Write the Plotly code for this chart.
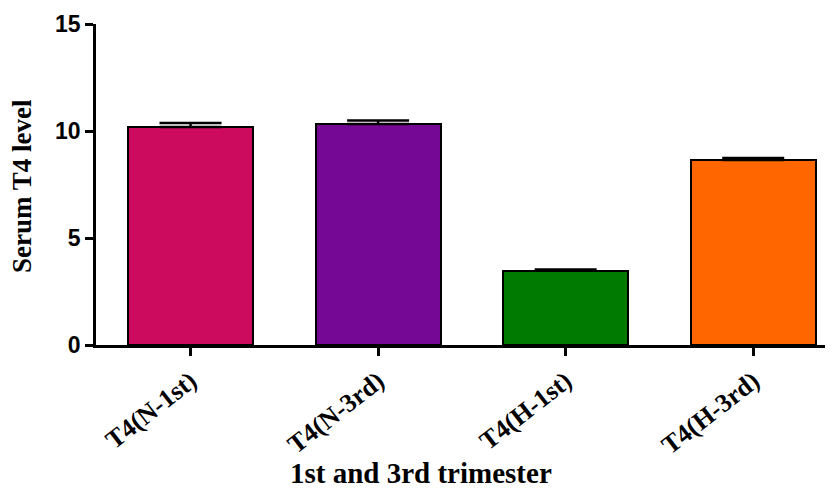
import plotly.graph_objects as go

categories = ["T4(N-1st)", "T4(N-3rd)", "T4(H-1st)", "T4(H-3rd)"]
values = [10.19, 10.33, 3.48, 8.64]
errors = [0.18, 0.16, 0.05, 0.10]
colors = ["#CC0A5E", "#760896", "#007A00", "#FF6600"]
y_ticks = [0, 5, 10, 15]

W, H = 825, 480
L, R, T, B = 88, 1, 16, 143
PW, PH = W - L - R, H - T - B

fig = go.Figure()
fig.add_trace(go.Bar(
    x=list(range(len(categories))), y=values, width=0.667,
    marker=dict(color=colors, line=dict(color="black", width=2)),
    error_y=dict(type="data", array=errors, symmetric=False, arrayminus=[0]*4,
                 color="black", thickness=2.5, width=31),
))
fig.update_layout(
    width=W, height=H, plot_bgcolor="white", paper_bgcolor="white",
    margin=dict(l=L, r=R, t=T, b=B), showlegend=False, bargap=0,
    xaxis=dict(range=[-0.504, 3.42], tickmode="array", tickvals=list(range(4)),
               ticktext=["<b>%s</b>" % c for c in categories],
               tickangle=-38, ticks="outside", ticklen=8, tickwidth=2.5, tickcolor="black",
               showline=True, linecolor="black", linewidth=2.5, showgrid=False, zeroline=False,
               tickfont=dict(family="Liberation Serif", size=26, color="black")),
    yaxis=dict(range=[0, 15], tickmode="array", tickvals=y_ticks,
               ticktext=["<b>%d</b>" % v for v in y_ticks],
               ticks="outside", ticklen=8, tickwidth=2.5,
               tickcolor="black", showline=True, linecolor="black", linewidth=2.5,
               showgrid=False, zeroline=False,
               tickfont=dict(family="Liberation Sans", size=23, color="black")),
)
fig.add_annotation(text="<b>Serum T4 level</b>", xref="paper", yref="paper", textangle=-90,
                   x=(14 - L) / PW, y=(H - B - 178) / PH, showarrow=False,
                   xanchor="center", yanchor="middle",
                   font=dict(family="Liberation Serif", size=27, color="black"))
fig.add_annotation(text="<b>1st and 3rd trimester</b>", xref="paper", yref="paper",
                   x=(413 - L) / PW, y=-(465 - (H - B)) / PH, showarrow=False,
                   xanchor="center", yanchor="middle",
                   font=dict(family="Liberation Serif", size=29, color="black"))
fig.write_html("out.html")
